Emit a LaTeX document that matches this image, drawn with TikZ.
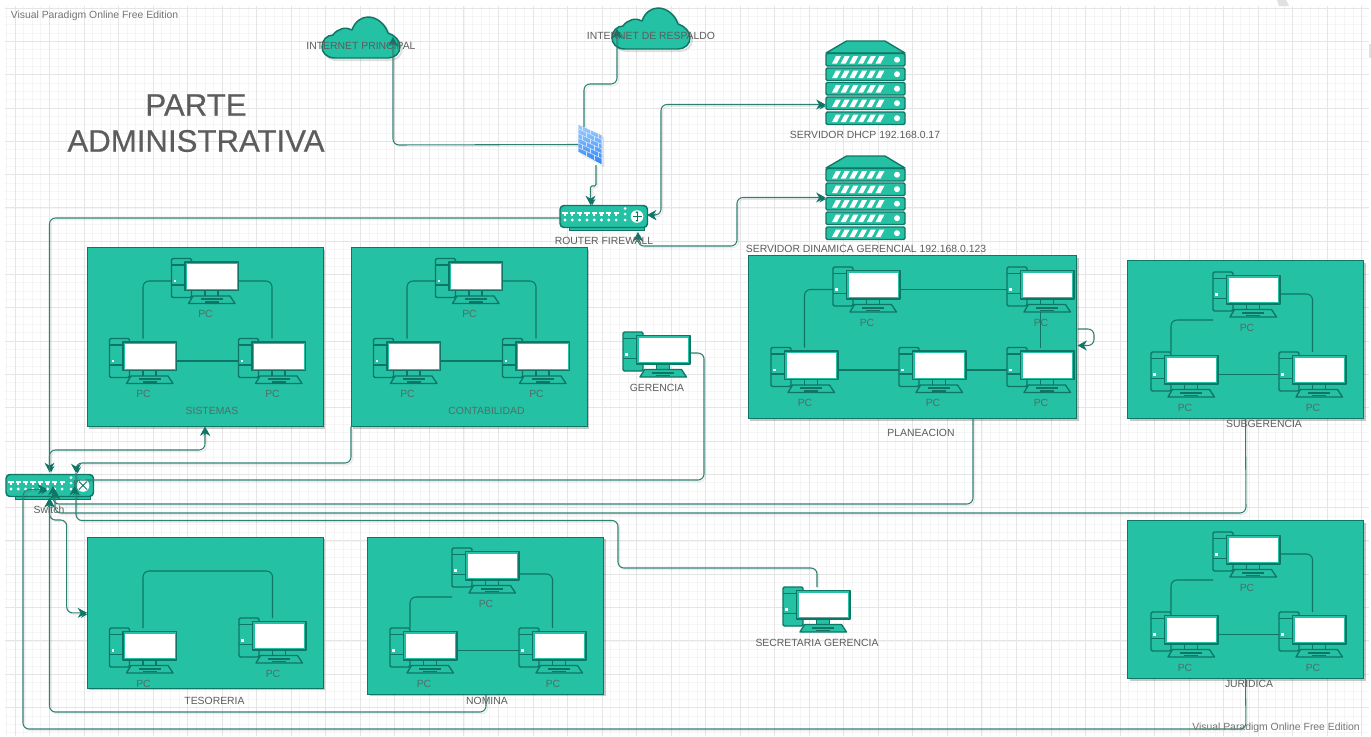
\documentclass[tikz,border=0pt]{standalone}
\usepackage{fontspec}
\setmainfont{Liberation Sans}
\newfontfamily\titlefont[FakeBold=0.4]{Liberation Sans}
\usetikzlibrary{arrows.meta,shadows,calc}
\definecolor{teal1}{HTML}{24C1A5}
\definecolor{dark1}{HTML}{0F7565}
\definecolor{conn1}{HTML}{2F8072}
\definecolor{txt1}{HTML}{5C5C5C}
\definecolor{txt2}{HTML}{4F6F67}
\definecolor{fwtop}{HTML}{A4CFFF}
\definecolor{fwbot}{HTML}{2A84F6}
\definecolor{fwline}{HTML}{D2E7FF}
\tikzset{
  x=0.75pt,y=-0.75pt,
  conn/.style={draw=conn1,line width=.8pt,rounded corners=4.5pt,
    preaction={draw=black,draw opacity=.07,line width=1pt,transform canvas={shift={(1.2pt,-1.2pt)}}}},
  atip/.tip={Stealth[length=7pt,width=7.5pt,color=dark1]},
  tip/.style={-atip},
  tips/.style={atip-atip},
  inner/.style={draw=dark1,line width=.8pt,rounded corners=4.5pt},
  icon/.style={draw=dark1,line width=1pt,fill=teal1,line join=round},
  groupbox/.style={draw=dark1,line width=.7pt,fill=teal1,inner sep=0pt,outer sep=0pt,
    drop shadow={shadow xshift=1.5pt,shadow yshift=-1.5pt,opacity=.22,fill=black}},
  ghost/.style={inner sep=0pt,outer sep=0pt,draw=none},
  lab/.style={font=\fontsize{7.8pt}{9pt}\selectfont,text=txt1,inner sep=0pt},
  pclab/.style={font=\fontsize{7.8pt}{9pt}\selectfont,text=txt2,inner sep=0pt},
  wm/.style={font=\fontsize{7.8pt}{9pt}\selectfont,text=txt1!85,inner sep=0pt},
  titletxt/.style={font=\titlefont\fontsize{23.4pt}{27pt}\selectfont,text=txt1,inner sep=0pt},
}
\newcommand{\PCicon}[5]{%
  \begin{scope}[shift={(#2,#3)}]
    \draw[icon,rounded corners=1pt] (0,0) rectangle (20,39);
    \draw[dark1,line width=.8pt] (0,6.5) -- (20,6.5) (0,26.5) -- (20,26.5);
    \fill[white] (2.4,21.4) rectangle (4.6,23.6);
    \draw[icon] (33.5,32) rectangle (46.5,38);
    \draw[icon] (21.5,37.5) -- (58.5,37.5) -- (63.5,45) -- (17,45) -- cycle;
    \fill[dark1] (29,39.6) rectangle (51,41.6);
    \fill[dark1] (33,42.6) rectangle (47,44);
    \draw[icon] (13.5,3.5) rectangle (67,32);
    \fill[white] (15.5,5.5) rectangle (65,30);
    \node[ghost,minimum width=50.25pt,minimum height=33.75pt] (#1) at (33.5,22.5) {};
    \node[#5] (#1-l) at (34,55.5) {#4};
  \end{scope}}
\newcommand{\HubIcon}[4]{%
  \begin{scope}[shift={(#2,#3)}]
    \fill[dark1] (9,20) -- (85,20) -- (85,25.5) -- (9,25.5) -- cycle;
    \fill[teal1] (10,20) rectangle (84,24.5);
    \draw[icon,line width=1.1pt,rounded corners=3pt] (0,0) rectangle (87.5,22);
    \foreach \k in {0,...,7}{
      \fill[white] ({5+7.3*\k-2.6},6) rectangle ({5+7.3*\k+2.6},8.2);
      \fill[white] ({5+7.3*\k-1.1},8) rectangle ({5+7.3*\k+1.1},10);
      \fill[white] ({5+7.3*\k},14.5) circle (1.6);
    }
    \foreach \yy in {3,8.5,14.5}{\fill[white] (65,\yy) circle (1.5);}
    \fill[white] (77,11) circle (6.3);
    #4
    \node[ghost,minimum width=65.6pt,minimum height=16.5pt] (#1) at (43.75,11) {};
  \end{scope}}
\newcommand{\ServerIcon}[3]{%
  \begin{scope}[shift={(#2,#3)}]
    \draw[icon] (20.5,0) -- (59,0) -- (79,12) -- (0,12) -- cycle;
    \foreach \yy in {12.5,27,41.5,56,71}{
      \begin{scope}[shift={(0,\yy)}]
        \draw[icon,rounded corners=1pt] (0,0) rectangle (79,12.5);
        \foreach \k in {0,...,5}{
          \fill[white] ({6+8.7*\k},10) -- ({11+8.7*\k},10) -- ({15+8.7*\k},2.5) -- ({10+8.7*\k},2.5) -- cycle;
        }
        \fill[white] (71,6.2) circle (3);
      \end{scope}}
    \node[ghost,minimum width=59.25pt,minimum height=63pt] (#1) at (39.5,42) {};
  \end{scope}}
\newcommand{\CloudIcon}[3]{%
  \begin{scope}[shift={(#2,#3)}]
    \draw[icon,line width=1.1pt,preaction={draw=black,draw opacity=.12,line width=1.5pt,transform canvas={shift={(1.5pt,-1.5pt)}}}]
      (13,41) .. controls (4,41) and (0,35) .. (0,30)
      .. controls (0,23) and (5,18) .. (11,18)
      .. controls (15,12) and (24,9) .. (30,13)
      .. controls (33,4) and (40,0) .. (46,0)
      .. controls (55,0) and (63,7) .. (66,16)
      .. controls (73,18) and (78,24) .. (78,30)
      .. controls (78,36) and (73,41) .. (66,41) -- cycle;
    \node[ghost,minimum width=58.5pt,minimum height=30.75pt] (#1) at (39,20.5) {};
  \end{scope}}
\begin{document}
\begin{tikzpicture}
\useasboundingbox (0,0) rectangle (1371,736);
\fill[white] (0,0) rectangle (1371,736);
% grid
\foreach \k in {-1,...,156}{\draw[black!4,line width=.6pt] ({15+8.633*\k},6) -- ({15+8.633*\k},736);}
\foreach \k in {0,...,87}{\draw[black!4,line width=.6pt] (5,{8+8.33*\k}) -- (1369,{8+8.33*\k});}
\foreach \k in {0,...,39}{\draw[black!10,line width=.6pt] ({15+34.53*\k},6) -- ({15+34.53*\k},736);}
\foreach \k in {0,...,21}{\draw[black!10,line width=.6pt] (5,{8+33.3*\k}) -- (1369,{8+33.3*\k});}
\fill[black!12] (1277,0) -- (1286,0) -- (1289,6) -- (1279,6) -- cycle;
\fill[black!12] (1369,44) rectangle (1371,58);
% group boxes
\node[groupbox,minimum width=177pt,minimum height=134.25pt,anchor=north west] (sis) at (87,247.5) {};
\node[groupbox,minimum width=177pt,minimum height=134.25pt,anchor=north west] (con) at (351,247.5) {};
\node[groupbox,minimum width=246.4pt,minimum height=122.25pt,anchor=north west] (pla) at (748,255.5) {};
\node[groupbox,minimum width=177pt,minimum height=118.5pt,anchor=north west] (sub) at (1127.5,260.5) {};
\node[groupbox,minimum width=177pt,minimum height=113.6pt,anchor=north west] (tes) at (87,537) {};
\node[groupbox,minimum width=177pt,minimum height=118.1pt,anchor=north west] (nom) at (367.5,537) {};
\node[groupbox,minimum width=177pt,minimum height=118.5pt,anchor=north west] (jur) at (1127.5,520.5) {};
% PCs
\PCicon{s1}{171.5}{258.5}{PC}{pclab}
\PCicon{s2}{109.5}{338.5}{PC}{pclab}
\PCicon{s3}{238.5}{338.5}{PC}{pclab}
\PCicon{c1}{435.5}{258.5}{PC}{pclab}
\PCicon{c2}{373.5}{338.5}{PC}{pclab}
\PCicon{c3}{502.5}{338.5}{PC}{pclab}
\PCicon{ger}{623}{332}{GERENCIA}{lab}
\PCicon{p1}{833}{267}{PC}{pclab}
\PCicon{p2}{1007}{267}{PC}{pclab}
\PCicon{p3}{771}{347.5}{PC}{pclab}
\PCicon{p4}{899}{347.5}{PC}{pclab}
\PCicon{p5}{1007}{347.5}{PC}{pclab}
\PCicon{u1}{1213}{272}{PC}{pclab}
\PCicon{u2}{1151}{352}{PC}{pclab}
\PCicon{u3}{1279}{352}{PC}{pclab}
\PCicon{t1}{109.5}{628}{PC}{pclab}
\PCicon{t2}{239}{618}{PC}{pclab}
\PCicon{n1}{452}{548}{PC}{pclab}
\PCicon{n2}{390}{628}{PC}{pclab}
\PCicon{n3}{519}{628}{PC}{pclab}
\PCicon{j1}{1213}{532}{PC}{pclab}
\PCicon{j2}{1151}{612}{PC}{pclab}
\PCicon{j3}{1279}{612}{PC}{pclab}
\PCicon{sec}{783}{587}{SECRETARIA GERENCIA}{lab}
% links inside groups
\draw[inner] (s2.north) |- (s1.west);
\draw[inner] (s1.east) -| (s3.north);
\draw[inner] (s2.east) -- (s3.west);
\draw[inner] (c2.north) |- (c1.west);
\draw[inner] (c1.east) -| (c3.north);
\draw[inner] (c2.east) -- (c3.west);
\draw[inner] (p3.north) |- (p1.west);
\draw[inner] (p1.east) -- (p2.west);
\draw[inner] (p3.east) -- (p4.west);
\draw[inner] (p4.east) -- (p5.west);
\draw[inner] (p2.south) -- (p5.north);
\coordinate (u1hi) at (1280,294);
\coordinate (u1lo) at (1213,320);
\coordinate (u2top) at (1171,352);
\draw[inner] (u1hi) -| (u3.north);
\draw[inner] (u2top) |- (u1lo);
\draw[inner] (u2.east) -- (u3.west);
\coordinate (tbend) at (143,571);
\coordinate (tbend2) at (272.5,571);
\draw[inner] (t1.north) -- (tbend) -- (tbend2) -- (t2.north);
\coordinate (n1hi) at (520,574);
\coordinate (n1lo) at (452,597);
\coordinate (n2top) at (410,628);
\draw[inner] (n1hi) -| (n3.north);
\draw[inner] (n2top) |- (n1lo);
\draw[inner] (n2.east) -- (n3.west);
\coordinate (j1hi) at (1280,554);
\coordinate (j1lo) at (1213,580);
\coordinate (j2top) at (1171,612);
\draw[inner] (j1hi) -| (j3.north);
\draw[inner] (j2top) |- (j1lo);
\draw[inner] (j2.east) -- (j3.west);
% servers, clouds, firewall, hubs
\ServerIcon{dhcp}{826}{41}
\ServerIcon{dina}{826}{156}
\CloudIcon{cl1}{322}{17}
\CloudIcon{cl2}{612}{8}
\begin{scope}
  \fill[black,opacity=.12] (580,126) -- (604,137) -- (604,167) -- (580,154) -- cycle;
  \shade[top color=fwtop,bottom color=fwbot,draw=white,line width=.5pt]
     (578,124) -- (602,135) -- (602,165) -- (578,152) -- cycle;
  \foreach \k in {1,...,5}{
    \draw[fwline,line width=.4pt] (578,{124+4.7*\k}) -- (602,{135+4.7*\k});
  }
  \foreach \k in {0,...,5}{
    \pgfmathsetmacro{\off}{mod(\k,2)*4}
    \foreach \u in {4,12,20}{
      \draw[fwline,line width=.4pt] ({578+\u+\off},{124+4.7*\k+(\u+\off)*.458}) -- ({578+\u+\off},{124+4.7*\k+4.7+(\u+\off)*.458});
    }
  }
  \node[ghost,minimum width=18pt,minimum height=30.75pt] (fw) at (590,144.5) {};
\end{scope}
\HubIcon{rt}{560}{205.5}{%
  \draw[dark1,line width=.6pt] (77,6.5) -- (77,15.5) (72.5,11) -- (81.5,11);
  \fill[dark1] (77,5.5) -- (75.6,7.5) -- (78.4,7.5) -- cycle (77,16.5) -- (75.6,14.5) -- (78.4,14.5) -- cycle;
}
\HubIcon{sw}{6}{474.5}{%
  \draw[dark1,line width=.7pt] (73,7) -- (81,15) (81,7) -- (73,15);
}
% connection points on shapes
\coordinate (cl1in) at (393,37);
\coordinate (cl2in) at (617,29);
\coordinate (rtE) at (647,215);
\coordinate (rtS) at (638,232);
\coordinate (rtN) at (590.5,205);
\coordinate (rtW) at (560,218);
\coordinate (dhcpW) at (825.5,104.5);
\coordinate (dinaW) at (825.5,197.5);
\coordinate (swA) at (49.5,472);
\coordinate (swB) at (76,473);
\coordinate (swC) at (74.5,486);
\coordinate (swD) at (53,486);
\coordinate (swE) at (47,489);
\coordinate (swF) at (49.5,498);
\coordinate (swG) at (55,490);
\coordinate (gerE) at (691,353);
\coordinate (plaS) at (973,418.5);
\coordinate (secN) at (817,587);
\coordinate (nomS) at (486,695);
\coordinate (fwN) at (584,127);
\coordinate (fwS) at (596,165);
% connectors
\draw[conn,tip] (fw.west) -- (393,145) -- (cl1in);
\draw[conn,tip] (fwN) -- (584,84) -- (617,84) -- (cl2in);
\draw[conn,rounded corners=1pt,tip] (fwS) -- (596,186) -- (590.5,186) -- (rtN);
\draw[conn,tips] (rtE) -- (661,215) -- (661,104.5) -- (dhcpW);
\draw[conn,tips] (rtS) -- (638,246) -- (737,246) -- (737,197.5) -- (dinaW);
\draw[conn,tip] (rtW) -- (49.5,218) -- (swA);
\draw[conn,tip] (swA) -- (49.5,450) -- (205,450) -- (sis.south);
\draw[conn,tip] (con.south west) -- (351,463) -- (76,463) -- (swB);
\draw[conn] (swB) -- (76,520.5) -- (618,520.5) -- (618,568) -- (817,568) -- (secN);
\draw[conn,tip] (gerE) -- (704,353) -- (704,480) -- (74.5,480) -- (swC);
\draw[conn,tip] (plaS) -- (973,504) -- (53,504) -- (swD);
\draw[conn,tip] (sub.south) -- (1246,513) -- (55,513) -- (swG);
\draw[conn,tips] (swF) -- (49.5,520) -- (66.7,520) -- (66.7,613) -- (tes.west);
\draw[conn,tip] (nomS) -- (486,712) -- (49.5,712) -- (swF);
\draw[conn,tip] (jur.south) -- (1246,729) -- (23,729) -- (23,490) -- (swE);
\coordinate (plaLa) at (1077.5,345.5);
\coordinate (plaLb) at (1077.5,329);
\draw[inner,draw=conn1,atip-] (plaLa) -- (1094,345.5) -- (1094,329) -- (plaLb);
% labels
\node[titletxt] (t-a) at (196,105) {PARTE};
\node[titletxt] (t-b) at (196,141) {ADMINISTRATIVA};
\node[lab] (l-cl1) at (361,46) {INTERNET PRINCIPAL};
\node[lab] (l-cl2) at (651,36) {INTERNET DE RESPALDO};
\node[lab] (l-dhcp) at (865,135) {SERVIDOR DHCP 192.168.0.17};
\node[lab] (l-dina) at (866,249) {SERVIDOR DINAMICA GERENCIAL 192.168.0.123};
\node[lab] (l-rt) at (604,241) {ROUTER FIREWALL};
\node[lab] (l-sw) at (49,509.5) {Switch};
\node[pclab] (l-sis) at (212,411) {SISTEMAS};
\node[pclab] (l-con) at (486.5,411) {CONTABILIDAD};
\node[lab] (l-pla) at (921,433) {PLANEACION};
\node[lab] (l-sub) at (1264,424) {SUBGERENCIA};
\node[lab] (l-tes) at (214.5,701) {TESORERIA};
\node[lab] (l-nom) at (487,701) {NOMINA};
\node[lab] (l-jur) at (1249,684) {JURIDICA};
\node[wm,anchor=west] (w1) at (10.5,15.5) {Visual Paradigm Online Free Edition};
\node[wm,anchor=east] (w2) at (1360,728) {Visual Paradigm Online Free Edition};
\end{tikzpicture}
\end{document}
